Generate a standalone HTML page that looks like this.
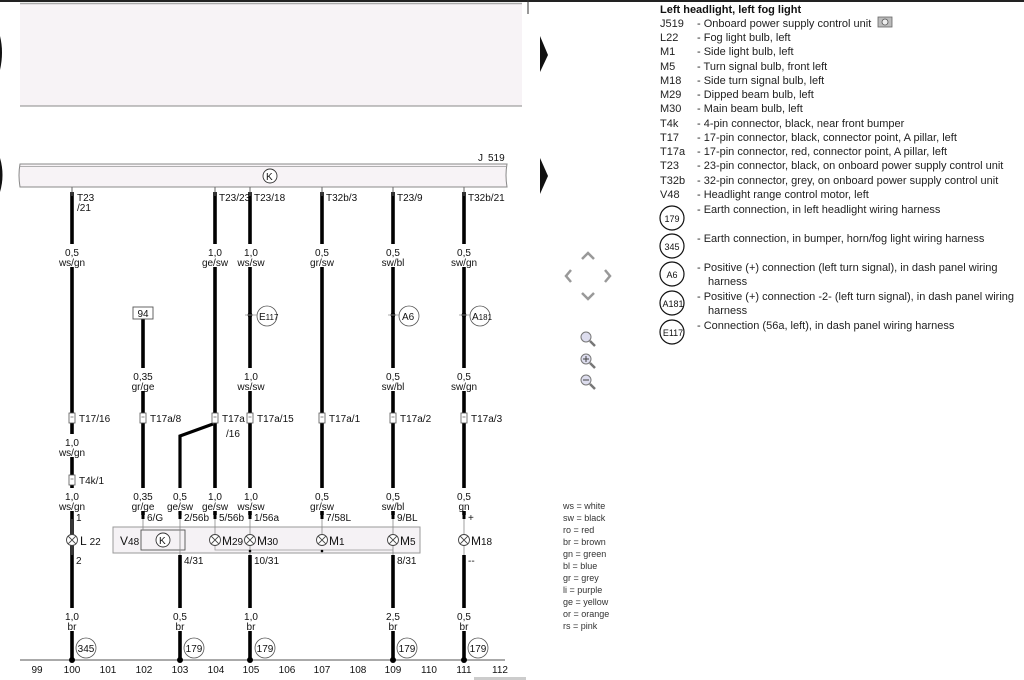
<!DOCTYPE html>
<html><head><meta charset="utf-8"><style>
html,body{margin:0;padding:0;background:#fff;}
svg{display:block;font-family:"Liberation Sans",sans-serif;}
.t{font-size:10px;fill:#111;}
.l{font-size:11px;fill:#222;}
</style></head><body>
<svg width="1024" height="680" viewBox="0 0 1024 680" xmlns="http://www.w3.org/2000/svg">
<defs>
<g id="cn"><rect x="-3" y="-5" width="6" height="10" fill="#fff" stroke="#555" stroke-width="0.8"/><line x1="-1.5" y1="-1" x2="1.5" y2="-1" stroke="#555" stroke-width="0.7"/></g>
<g id="bulb"><circle r="5.5" fill="#fff" stroke="#444" stroke-width="0.9"/><line x1="-3.9" y1="-3.9" x2="3.9" y2="3.9" stroke="#444" stroke-width="0.9"/><line x1="-3.9" y1="3.9" x2="3.9" y2="-3.9" stroke="#444" stroke-width="0.9"/></g>
</defs>
<!-- top line -->
<rect x="0" y="0" width="1024" height="2" fill="#222"/>
<line x1="528" y1="0" x2="528" y2="14" stroke="#333" stroke-width="1"/>
<!-- pink top box -->
<rect x="20" y="3" width="502" height="103" fill="#f7f3f6"/>
<line x1="20" y1="3.5" x2="522" y2="3.5" stroke="#aaa" stroke-width="1.5"/>
<line x1="20" y1="106" x2="522" y2="106" stroke="#888" stroke-width="1"/>
<!-- side arrows -->
<path d="M0,36 Q4,52 0,70 L0,36Z" fill="#111"/>
<path d="M0,158 Q5,175 0,192Z" fill="#111"/>
<path d="M540,36 L548,55 L540,72Z" fill="#111"/>
<path d="M540,158 L548,176 L540,194Z" fill="#111"/>
<!-- J519 bar -->
<path d="M20,164 L507,164 Q505,175 507,187 L20,187 Q18,175 20,164Z" fill="#f7f3f6" stroke="#888" stroke-width="1"/>
<line x1="20" y1="166.5" x2="507" y2="166.5" stroke="#999" stroke-width="0.8"/>
<circle cx="270" cy="176" r="7" fill="#fff" stroke="#333" stroke-width="0.9"/>
<text x="266" y="180" class="t" font-size="9">K</text>
<text x="478" y="161" class="t" font-size="11">J</text><text x="488" y="161" class="t" font-size="9">519</text>

<!-- wires -->
<g stroke="#000" stroke-width="3.6" fill="none">
<line x1="72" y1="192" x2="72" y2="660"/>
<line x1="143" y1="319" x2="143" y2="515"/>
<line x1="215" y1="192" x2="215" y2="515"/>
<polyline points="213,424 180,436 180,515" stroke-width="3.2"/>
<line x1="180" y1="555" x2="180" y2="660"/>
<line x1="250" y1="192" x2="250" y2="515"/>
<line x1="250" y1="555" x2="250" y2="660"/>
<line x1="322" y1="192" x2="322" y2="515"/>
<line x1="393" y1="192" x2="393" y2="515"/>
<line x1="393" y1="555" x2="393" y2="660"/>
<line x1="464" y1="192" x2="464" y2="515"/>
<line x1="464" y1="555" x2="464" y2="660"/>
</g>
<!-- thin pieces near bus -->
<g stroke="#666" stroke-width="1">
<line x1="72" y1="187" x2="72" y2="196"/><line x1="215" y1="187" x2="215" y2="196"/><line x1="250" y1="187" x2="250" y2="196"/>
<line x1="322" y1="187" x2="322" y2="196"/><line x1="393" y1="187" x2="393" y2="196"/><line x1="464" y1="187" x2="464" y2="196"/>
</g>
<!-- label backgrounds -->
<g fill="#fff">
<rect x="55" y="244" width="34" height="23"/><rect x="198" y="244" width="34" height="23"/><rect x="233" y="244" width="34" height="23"/>
<rect x="305" y="244" width="34" height="23"/><rect x="376" y="244" width="34" height="23"/><rect x="447" y="244" width="34" height="23"/>
<rect x="126" y="368" width="34" height="23"/><rect x="233" y="368" width="34" height="23"/><rect x="376" y="368" width="34" height="23"/><rect x="447" y="368" width="34" height="23"/>
<rect x="55" y="434" width="34" height="23"/>
<rect x="55" y="488" width="34" height="23"/><rect x="126" y="488" width="34" height="23"/><rect x="163" y="488" width="34" height="23"/><rect x="198" y="488" width="34" height="23"/>
<rect x="233" y="488" width="34" height="23"/><rect x="305" y="488" width="34" height="23"/><rect x="376" y="488" width="34" height="23"/><rect x="447" y="488" width="34" height="23"/>
<rect x="55" y="608" width="34" height="23"/><rect x="163" y="608" width="34" height="23"/><rect x="233" y="608" width="34" height="23"/><rect x="376" y="608" width="34" height="23"/><rect x="447" y="608" width="34" height="23"/>
</g>
<!-- wire labels -->
<g class="t" text-anchor="middle">
<text x="72" y="256">0,5</text><text x="72" y="266">ws/gn</text>
<text x="215" y="256">1,0</text><text x="215" y="266">ge/sw</text>
<text x="251" y="256">1,0</text><text x="251" y="266">ws/sw</text>
<text x="322" y="256">0,5</text><text x="322" y="266">gr/sw</text>
<text x="393" y="256">0,5</text><text x="393" y="266">sw/bl</text>
<text x="464" y="256">0,5</text><text x="464" y="266">sw/gn</text>
<text x="143" y="380">0,35</text><text x="143" y="390">gr/ge</text>
<text x="251" y="380">1,0</text><text x="251" y="390">ws/sw</text>
<text x="393" y="380">0,5</text><text x="393" y="390">sw/bl</text>
<text x="464" y="380">0,5</text><text x="464" y="390">sw/gn</text>
<text x="72" y="446">1,0</text><text x="72" y="456">ws/gn</text>
<text x="72" y="500">1,0</text><text x="72" y="510">ws/gn</text>
<text x="143" y="500">0,35</text><text x="143" y="510">gr/ge</text>
<text x="180" y="500">0,5</text><text x="180" y="510">ge/sw</text>
<text x="215" y="500">1,0</text><text x="215" y="510">ge/sw</text>
<text x="251" y="500">1,0</text><text x="251" y="510">ws/sw</text>
<text x="322" y="500">0,5</text><text x="322" y="510">gr/sw</text>
<text x="393" y="500">0,5</text><text x="393" y="510">sw/bl</text>
<text x="464" y="500">0,5</text><text x="464" y="510">gn</text>
<text x="72" y="620">1,0</text><text x="72" y="630">br</text>
<text x="180" y="620">0,5</text><text x="180" y="630">br</text>
<text x="251" y="620">1,0</text><text x="251" y="630">br</text>
<text x="393" y="620">2,5</text><text x="393" y="630">br</text>
<text x="464" y="620">0,5</text><text x="464" y="630">br</text>
</g>
<!-- top connector labels -->
<g class="t">
<text x="77" y="201">T23</text><text x="77" y="211">/21</text>
<text x="219" y="201">T23/23</text><text x="254" y="201">T23/18</text>
<text x="326" y="201">T32b/3</text><text x="397" y="201">T23/9</text><text x="468" y="201">T32b/21</text>
</g>
<!-- 94 box -->
<rect x="133" y="307" width="20" height="12" fill="#fff" stroke="#555" stroke-width="0.9"/>
<text x="143" y="317" class="t" text-anchor="middle" font-size="9">94</text>
<!-- node circles -->
<g stroke="#555" stroke-width="0.8" fill="#fff">
<circle cx="267" cy="316" r="10"/><circle cx="409" cy="316" r="10"/><circle cx="480" cy="316" r="10"/>
</g>
<g fill="#000"><circle cx="250" cy="315" r="2.4"/><circle cx="393" cy="315" r="2.4"/><circle cx="464" cy="315" r="2.4"/></g>
<g stroke="#999" stroke-width="0.8"><line x1="245" y1="315" x2="257" y2="315"/><line x1="388" y1="315" x2="399" y2="315"/><line x1="459" y1="315" x2="470" y2="315"/></g>
<g class="t"><text x="259" y="320">E<tspan font-size="8">117</tspan></text><text x="402" y="320">A6</text><text x="472" y="320">A<tspan font-size="8">181</tspan></text></g>
<!-- T17 connectors -->
<use href="#cn" x="72" y="418"/><use href="#cn" x="143" y="418"/><use href="#cn" x="215" y="418"/><use href="#cn" x="250" y="418"/>
<use href="#cn" x="322" y="418"/><use href="#cn" x="393" y="418"/><use href="#cn" x="464" y="418"/><use href="#cn" x="72" y="480"/>
<g class="t">
<text x="79" y="422">T17/16</text><text x="150" y="422">T17a/8</text><text x="222" y="422">T17a</text><text x="226" y="437">/16</text>
<text x="257" y="422">T17a/15</text><text x="329" y="422">T17a/1</text><text x="400" y="422">T17a/2</text><text x="471" y="422">T17a/3</text>
<text x="79" y="484">T4k/1</text>
</g>
<!-- component box -->
<rect x="113" y="527" width="307" height="26" fill="#f5f2f5" stroke="#999" stroke-width="1"/>
<rect x="141" y="530" width="44" height="20" fill="#f5f2f5" stroke="#555" stroke-width="0.9"/>
<circle cx="163" cy="540" r="7" fill="#fff" stroke="#333" stroke-width="0.9"/><text x="159" y="544" class="t" font-size="9">K</text>
<polyline points="215,540 215,550 393,550" fill="none" stroke="#999" stroke-width="0.8"/>
<g stroke="#888" stroke-width="0.8">
<line x1="72" y1="515" x2="72" y2="535"/><line x1="72" y1="546" x2="72" y2="555"/>
<line x1="143" y1="515" x2="143" y2="530"/><line x1="180" y1="515" x2="180" y2="555"/>
<line x1="215" y1="515" x2="215" y2="535"/><line x1="250" y1="515" x2="250" y2="555"/>
<line x1="322" y1="515" x2="322" y2="535"/><line x1="393" y1="515" x2="393" y2="555"/>
<line x1="464" y1="515" x2="464" y2="535"/><line x1="464" y1="546" x2="464" y2="555"/>
</g>
<g fill="#000"><rect x="70.5" y="511" width="3" height="8"/><rect x="141.5" y="511" width="3" height="8"/><rect x="178.5" y="511" width="3" height="8"/><rect x="213.5" y="511" width="3" height="8"/><rect x="248.5" y="511" width="3" height="8"/><rect x="320.5" y="511" width="3" height="8"/><rect x="391.5" y="511" width="3" height="8"/><rect x="462.5" y="511" width="3" height="8"/>
<circle cx="322" cy="551" r="1.3"/><circle cx="250" cy="551" r="1.3"/></g>
<use href="#bulb" x="72" y="540"/><use href="#bulb" x="215" y="540"/><use href="#bulb" x="250" y="540"/><use href="#bulb" x="322" y="540"/><use href="#bulb" x="393" y="540"/><use href="#bulb" x="464" y="540"/>
<g class="t">
<text x="76" y="521">1</text><text x="147" y="521">6/G</text><text x="184" y="521">2/56b</text><text x="219" y="521">5/56b</text><text x="254" y="521">1/56a</text><text x="326" y="521">7/58L</text><text x="397" y="521">9/BL</text><text x="468" y="521">+</text>
<text x="76" y="564">2</text><text x="184" y="564">4/31</text><text x="254" y="564">10/31</text><text x="397" y="564">8/31</text><text x="468" y="564">--</text>
<g font-size="12"><text x="80" y="545">L <tspan font-size="10">22</tspan></text><text x="120" y="545">V<tspan font-size="10">48</tspan></text>
<text x="222" y="545">M<tspan font-size="10">29</tspan></text><text x="257" y="545">M<tspan font-size="10">30</tspan></text><text x="329" y="545">M<tspan font-size="10">1</tspan></text><text x="400" y="545">M<tspan font-size="10">5</tspan></text><text x="471" y="545">M<tspan font-size="10">18</tspan></text></g>
</g>
<!-- earth circles -->
<g stroke="#555" stroke-width="0.8" fill="#fff">
<circle cx="86" cy="648" r="10"/><circle cx="194" cy="648" r="10"/><circle cx="265" cy="648" r="10"/><circle cx="407" cy="648" r="10"/><circle cx="478" cy="648" r="10"/>
</g>
<g class="t" font-size="9" text-anchor="middle"><text x="86" y="652">345</text><text x="194" y="652">179</text><text x="265" y="652">179</text><text x="407" y="652">179</text><text x="478" y="652">179</text></g>
<!-- bottom line -->
<line x1="20" y1="660" x2="505" y2="660" stroke="#555" stroke-width="1"/>
<g fill="#000"><circle cx="72" cy="660" r="3"/><circle cx="180" cy="660" r="3"/><circle cx="250" cy="660" r="3"/><circle cx="393" cy="660" r="3"/><circle cx="464" cy="660" r="3"/></g>
<g class="t" text-anchor="middle">
<text x="37" y="673">99</text><text x="72" y="673">100</text><text x="108" y="673">101</text><text x="144" y="673">102</text><text x="180" y="673">103</text><text x="216" y="673">104</text><text x="251" y="673">105</text><text x="287" y="673">106</text><text x="322" y="673">107</text><text x="358" y="673">108</text><text x="393" y="673">109</text><text x="429" y="673">110</text><text x="464" y="673">111</text><text x="500" y="673">112</text>
</g>
<rect x="474" y="677" width="52" height="3" fill="#ccc"/>
<!-- colour legend -->
<g font-size="9" fill="#333">
<text x="563" y="509">ws  =  white</text><text x="563" y="521">sw  =  black</text><text x="563" y="533">ro   =  red</text><text x="563" y="545">br   =  brown</text><text x="563" y="557">gn  =  green</text><text x="563" y="569">bl   =  blue</text><text x="563" y="581">gr   =  grey</text><text x="563" y="593">li     =  purple</text><text x="563" y="605">ge  =  yellow</text><text x="563" y="617">or   =  orange</text><text x="563" y="629">rs   =  pink</text>
</g>
<!-- nav -->
<g fill="none" stroke="#999" stroke-width="2.5">
<polyline points="582,259 588,253 594,259"/><polyline points="571,270 566,276 571,282"/><polyline points="605,270 610,276 605,282"/><polyline points="582,293 588,299 594,293"/>
</g>
<g stroke="#777" fill="#dde" stroke-width="1">
<circle cx="586" cy="337" r="5"/><line x1="590" y1="341" x2="595" y2="346" stroke-width="2.5"/>
<circle cx="586" cy="359" r="5"/><line x1="590" y1="363" x2="595" y2="368" stroke-width="2.5"/>
<circle cx="586" cy="380" r="5"/><line x1="590" y1="384" x2="595" y2="389" stroke-width="2.5"/>
</g>
<g stroke="#444" stroke-width="1"><line x1="583" y1="359" x2="589" y2="359"/><line x1="586" y1="356" x2="586" y2="362"/><line x1="583" y1="380" x2="589" y2="380"/></g>
<!-- legend -->
<text x="660" y="13" font-size="11" font-weight="bold" fill="#111">Left headlight, left fog light</text>
<g class="l">
<text x="660" y="27">J519</text><text x="697" y="27">-  Onboard power supply control unit</text>
<text x="660" y="41">L22</text><text x="697" y="41">-  Fog light bulb, left</text>
<text x="660" y="55">M1</text><text x="697" y="55">-  Side light bulb, left</text>
<text x="660" y="70">M5</text><text x="697" y="70">-  Turn signal bulb, front left</text>
<text x="660" y="84">M18</text><text x="697" y="84">-  Side turn signal bulb, left</text>
<text x="660" y="98">M29</text><text x="697" y="98">-  Dipped beam bulb, left</text>
<text x="660" y="112">M30</text><text x="697" y="112">-  Main beam bulb, left</text>
<text x="660" y="127">T4k</text><text x="697" y="127">-  4-pin connector, black, near front bumper</text>
<text x="660" y="141">T17</text><text x="697" y="141">-  17-pin connector, black, connector point, A pillar, left</text>
<text x="660" y="155">T17a</text><text x="697" y="155">-  17-pin connector, red, connector point, A pillar, left</text>
<text x="660" y="169">T23</text><text x="697" y="169">-  23-pin connector, black, on onboard power supply control unit</text>
<text x="660" y="184">T32b</text><text x="697" y="184">-  32-pin connector, grey, on onboard power supply control unit</text>
<text x="660" y="198">V48</text><text x="697" y="198">-  Headlight range control motor, left</text>
<text x="697" y="213">-  Earth connection, in left headlight wiring harness</text>
<text x="697" y="242">-  Earth connection, in bumper, horn/fog light wiring harness</text>
<text x="697" y="271">-  Positive (+) connection (left turn signal), in dash panel wiring</text>
<text x="708" y="285">harness</text>
<text x="697" y="300">-  Positive (+) connection -2- (left turn signal), in dash panel wiring</text>
<text x="708" y="314">harness</text>
<text x="697" y="329">-  Connection (56a, left), in dash panel wiring harness</text>
</g>
<rect x="878" y="17" width="14" height="10" fill="#bbb" stroke="#666" stroke-width="0.8"/><circle cx="885" cy="22" r="3" fill="#eee" stroke="#555" stroke-width="0.8"/>
<g stroke="#111" stroke-width="1.2" fill="#fff">
<circle cx="672" cy="218" r="12"/><circle cx="672" cy="246" r="12"/><circle cx="672" cy="274" r="12"/><circle cx="672" cy="303" r="12"/><circle cx="672" cy="332" r="12"/>
</g>
<g font-size="9" fill="#111" text-anchor="middle">
<text x="672" y="222">179</text><text x="672" y="250">345</text><text x="672" y="278">A6</text><text x="673" y="307">A181</text><text x="673" y="336">E117</text>
</g>
</svg>
</body></html>
